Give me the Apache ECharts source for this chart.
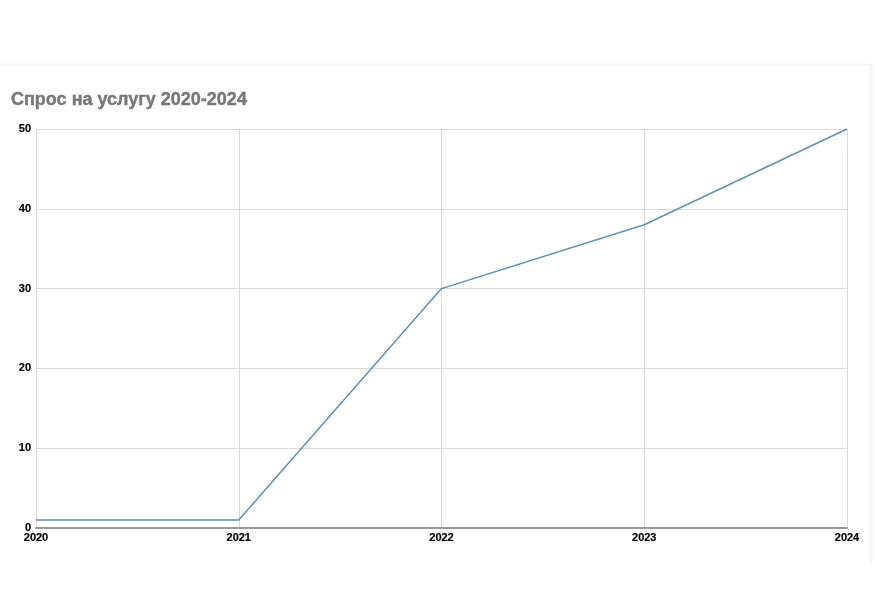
<!DOCTYPE html>
<html><head><meta charset="utf-8">
<script src="https://cdn.jsdelivr.net/npm/echarts@6/dist/echarts.min.js"></script>
<style>html,body{margin:0;padding:0;background:#fff}#c{width:875px;height:616px}</style>
</head><body><div id="c"></div>
<script>
const categories = ['2020','2021','2022','2023','2024'];
const values = [1, 1, 30, 38, 50];
const titleText = 'Спрос на услугу 2020-2024';

const chart = echarts.init(document.getElementById('c'), null, {renderer:'canvas'});
chart.setOption({
  animation:false,
  backgroundColor:'#fff',
  graphic:[
    {type:'line',z:-10,shape:{x1:0,y1:64.5,x2:870,y2:64.5},style:{stroke:'#f3f5f8',lineWidth:2}},
    {type:'line',z:-10,shape:{x1:871,y1:64,x2:871,y2:563},style:{stroke:'#f3f5f8',lineWidth:3}}
  ],
  title:{text:titleText,left:6,top:86,textStyle:{fontFamily:'Liberation Sans, Arial',fontWeight:'bold',fontSize:18,color:'#777',textBorderColor:'#777',textBorderWidth:0.4}},
  grid:{left:36,right:28,top:129,bottom:88,containLabel:false},
  xAxis:{type:'category',data:categories,boundaryGap:false,
    axisLine:{lineStyle:{color:'#999',width:2}},axisTick:{show:false},
    axisLabel:{color:'#000',fontWeight:'bold',fontSize:11,fontFamily:'Liberation Sans, Arial',margin:4,textBorderColor:'#000',textBorderWidth:0.2},
    splitLine:{show:true,lineStyle:{color:'#d9d9d9',width:1}}},
  yAxis:{type:'value',min:0,max:50,interval:10,
    axisLine:{show:false},axisTick:{show:false},
    axisLabel:{color:'#000',fontWeight:'bold',fontSize:11,fontFamily:'Liberation Sans, Arial',margin:5,textBorderColor:'#000',textBorderWidth:0.2},
    splitLine:{lineStyle:{color:'#d9d9d9',width:1}}},
  series:[{type:'line',data:values,symbol:'none',lineStyle:{color:'#5b93b0',width:1.5},itemStyle:{color:'#5b93b0'}}]
});
</script></body></html>
